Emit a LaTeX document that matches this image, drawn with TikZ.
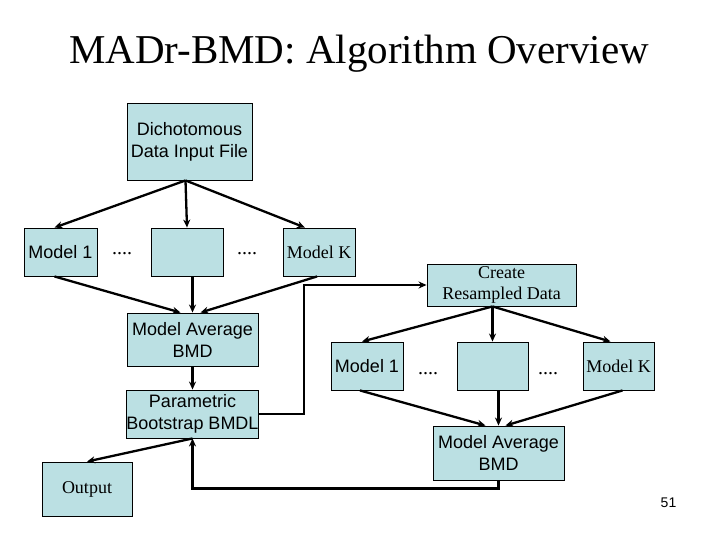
\documentclass[tikz,border=0pt]{standalone}
\usepackage{fontspec}
\setmainfont{Liberation Serif}
\newfontfamily\arialfont{Liberation Sans}
\usepackage{tikz}
\usetikzlibrary{arrows.meta, calc}
\definecolor{boxfill}{RGB}{187,224,227}
\tikzset{style={font=\fontsize{18}{21}\selectfont}}

\begin{document}
\begin{tikzpicture}[x=1pt,y=-1pt,>={Stealth[length=8pt,width=7pt]},
    box/.style={draw=black,line width=0.9pt,fill=boxfill,inner sep=0pt,align=center,
        font=\arialfont\fontsize{18}{22}\selectfont},
    serifbox/.style={box,font=\fontsize{18}{21}\selectfont},
    dots/.style={inner sep=0pt,font=\fontsize{20}{22}\selectfont},
    flow/.style={->,line width=2.3pt}]
    \useasboundingbox (0,0) rectangle (720,540);
    \node (title) at (359,54) {\fontsize{41}{46}\selectfont MADr-BMD: Algorithm Overview};
    % first pass
    \node[box,minimum width=125pt,minimum height=77pt] (dich) at (189.5,141.5) {Dichotomous\\Data Input File};
    \node[box,minimum width=73pt,minimum height=48pt] (m1L) at (60.5,252) {Model 1};
    \node[box,minimum width=72pt,minimum height=48pt] (midL) at (187,252) {};
    \node[serifbox,minimum width=72pt,minimum height=48pt] (mkL) at (319,252) {Model K};
    \node[dots] (dotsLa) at (122,254) {....};
    \node[dots] (dotsLb) at (247,254) {....};
    \node[box,minimum width=131pt,minimum height=53pt] (maL) at (192.5,339.5) {Model Average\\BMD};
    \node[box,minimum width=131pt,minimum height=48pt] (pb) at (192.5,414) {Parametric\\Bootstrap BMDL};
    \node[serifbox,minimum width=90pt,minimum height=54pt] (out) at (87,489) {Output};
    % resampling loop
    \node[serifbox,minimum width=149pt,minimum height=42pt,align=center] (crd) at (501.5,285) {Create\\Resampled Data};
    \node[box,minimum width=72pt,minimum height=48pt] (m1R) at (367,366) {Model 1};
    \node[box,minimum width=71pt,minimum height=48pt] (midR) at (492.5,366) {};
    \node[serifbox,minimum width=71pt,minimum height=48pt] (mkR) at (618.5,366) {Model K};
    \node[dots] (dotsRa) at (428,374) {....};
    \node[dots] (dotsRb) at (548,374) {....};
    \node[box,minimum width=131pt,minimum height=54pt] (maR) at (498.5,453) {Model Average\\BMD};
    \node[font=\arialfont\fontsize{14}{16}\selectfont] (page) at (668.5,503) {51};
    % connectors
    \draw[flow] ($(dich.south)+(-4,0)$) -- ($(m1L.north)+(-6,0)$);
    \draw[flow] ($(dich.south)+(-4,0)$) -- (midL.north);
    \draw[flow] ($(dich.south)+(-4,0)$) -- ($(mkL.north)+(-14,0)$);
    \draw[flow] ($(m1L.south)+(-6,0)$) -- ($(maL.north)+(-12,0)$);
    \draw[flow] (midL.south -| maL.north) -- (maL.north);
    \draw[flow] ($(mkL.south)+(-2,0)$) -- ($(maL.north)+(8,0)$);
    \draw[flow] (maL) -- (pb);
    \draw[flow] (pb.south) -- (out.north);
    \draw[flow] (pb.east) -- ++(45,0) |- (crd.west);
    \draw[flow] (crd.south -| midR.north) -- ($(m1R.north)+(-5,0)$);
    \draw[flow] (crd.south -| midR.north) -- (midR.north);
    \draw[flow] (crd.south -| midR.north) -- ($(mkR.north)+(-8,0)$);
    \draw[flow] ($(m1R.south)+(-7,0)$) -- ($(maR.north)+(-13,0)$);
    \draw[flow] (midR.south -| maR.north) -- (maR.north);
    \draw[flow] ($(mkR.south)+(4,0)$) -- ($(maR.north)+(7,0)$);
    \draw[flow] (maR.south) -- ++(0,8) -| (pb.south);
\end{tikzpicture}
\end{document}
